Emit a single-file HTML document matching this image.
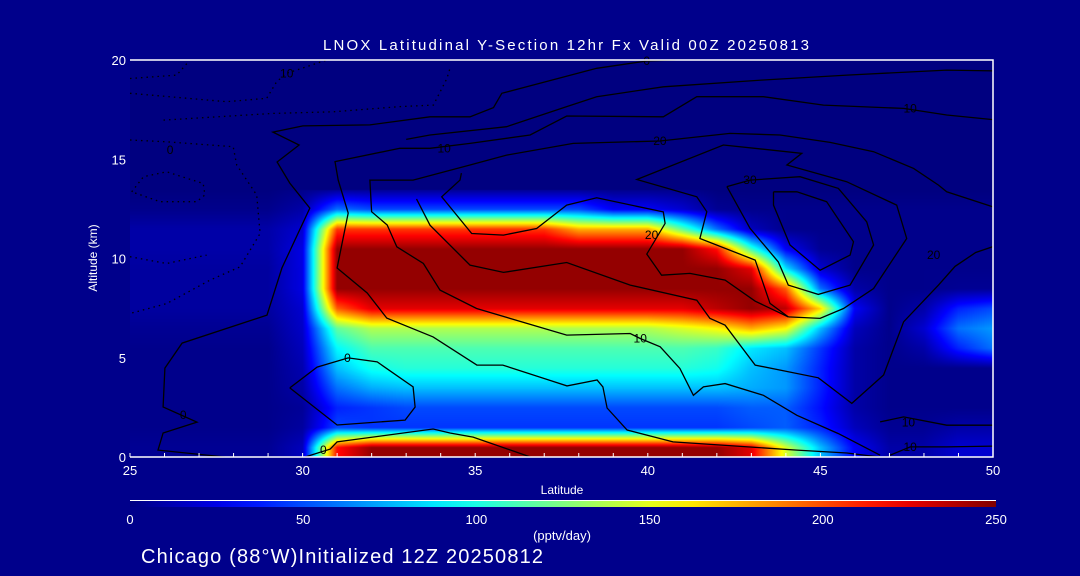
<!DOCTYPE html>
<html><head><meta charset="utf-8"><style>
html,body{margin:0;padding:0;background:#00008b;}
#wrap{position:relative;width:1080px;height:576px;background:#00008b;overflow:hidden;font-family:"Liberation Sans",sans-serif;}
canvas{position:absolute;left:130px;top:60px;}
svg{position:absolute;left:0;top:0;}
</style></head><body>
<div id="wrap">
<canvas id="heat" width="863" height="397"></canvas>
<svg id="svg" width="1080" height="576"></svg>
</div>
<script>
// ---- data ----
const lats = [25,26,27,28,29,30,31,32,33,34,35,36,37,38,39,40,41,42,43,44,45,46,47,48,49,50];
const altRows = [0,1,2,3,4,5,6,7,8,9,10,11,12,13];
const r0 = [5,5,5,5,5,15,220,250,250,250,250,250,250,250,250,250,250,250,230,150,80,30,10,10,20,20];
const r1 = [3,3,3,3,3,8,50,45,45,45,45,45,45,45,45,45,45,45,50,55,40,15,5,5,10,10];
const r2 = [3,3,3,3,3,6,40,45,50,50,50,50,50,50,50,50,50,50,55,55,35,10,3,3,3,3];
const r3 = [3,3,3,3,3,10,60,75,80,80,80,80,80,80,80,80,80,80,75,70,40,10,3,3,3,3];
const r4 = [3,3,3,3,3,12,80,100,105,105,105,105,105,105,105,105,105,100,80,70,40,10,3,3,3,3];
const r5 = [3,3,3,3,3,15,95,115,115,115,115,115,115,115,115,115,115,110,90,80,45,10,3,10,40,60];
const r6 = [5,5,5,5,5,18,120,140,140,140,140,140,140,140,140,140,150,160,180,160,80,15,3,20,60,70];
const r7 = [8,8,8,8,8,20,200,230,230,230,230,230,230,230,230,230,230,240,250,240,170,30,3,10,40,50];
const r8 = [8,8,8,8,8,25,250,250,250,250,250,250,250,250,250,250,250,250,250,200,60,10,3,3,5,5];
const r9 = [8,8,8,8,8,25,250,250,250,250,250,250,250,250,250,250,250,250,230,90,20,3,3,3,3,3];
const r10 = [10,10,10,10,10,25,250,250,250,250,250,250,250,250,250,250,250,220,110,30,5,3,3,3,3,3];
const r11 = [10,10,10,10,10,20,210,210,210,210,210,210,210,180,180,180,120,60,15,3,3,3,3,3,3,3];
const r12 = [3,3,3,3,3,10,60,50,50,50,50,50,50,50,30,30,20,5,3,3,3,3,3,3,3,3];
const r13 = [0,0,0,0,0,3,5,5,5,5,5,5,5,5,3,3,3,0,0,0,0,0,0,0,0,0];
const grid = [r0,r1,r2,r3,r4,r5,r6,r7,r8,r9,r10,r11,r12,r13];

const xTicks = [25,30,35,40,45,50];
const yTicks = [0,5,10,15,20];
const cbTicks = [0,50,100,150,200,250];

// contours [lat, alt]
const c0 = [[27.75,0],[25.81,0.35],[25.96,1.21],[26.94,1.76],[25.96,2.52],[26.01,4.48],[26.51,5.74],[28.97,7.15],[29.4,9.52],[30.21,12.54],[29.63,13.8],[29.26,14.86],[29.9,15.72],[29.14,16.37],[30.01,16.68],[31.95,16.73],[33.69,17.14],[34.85,17.14],[35.53,17.6],[35.77,18.32],[38.52,19.58],[39.97,19.95],[40.8,20]];
const c0loop = [[29.63,3.48],[30.42,4.53],[31.32,4.99],[32.16,4.79],[33.2,3.53],[33.26,2.52],[32.97,1.86],[31.0,1.61],[29.63,3.48]];
const c0bot = [[30.07,0],[30.8,0.4],[31.0,0.76],[33.78,1.41],[34.27,1.21],[34.94,1.0],[36.6,0]];
const c10big = [[46.7,0],[45.77,0.2],[44.32,0.35],[40.73,0.76],[39.4,1.36],[38.82,2.47],[38.7,3.53],[38.53,3.88],[37.66,3.58],[35.8,4.63],[35.05,4.63],[33.78,6.05],[32.44,7.0],[31.87,8.26],[31.0,9.52],[31.32,12.29],[31.03,13.95],[30.94,14.88],[32.82,15.55],[33.69,15.55],[34.85,15.8],[36.59,16.22],[37.65,17.18],[40.45,17.14],[41.42,18.15],[43.35,18.15],[45.09,17.73],[47.41,17.56],[48.66,17.23],[50,17.0]];
const c5 = [[33.0,16.0],[33.69,16.22],[35.91,16.64],[37.65,17.65],[38.52,18.15],[40.45,18.65],[43.35,18.99],[45.77,19.24],[48.66,19.49],[50,19.45]];
const c20 = [[46.73,0.09],[45.52,1.18],[44.32,2.1],[43.35,3.11],[42.24,3.7],[41.61,3.53],[41.32,3.11],[40.93,4.46],[40.36,5.55],[39.78,5.97],[39.49,6.22],[37.65,6.14],[35.04,7.48],[33.98,8.41],[33.5,9.75],[32.73,10.59],[32.45,11.69],[32.0,12.36],[31.95,13.95],[33.2,13.95],[34.85,14.71],[35.91,15.21],[37.84,15.8],[40.35,15.92],[42.38,16.3],[43.83,16.22],[45.28,15.85],[46.54,15.38],[47.7,14.54],[48.42,13.7],[48.66,13.36],[50,12.6]];
const cD = [[34.6,14.3],[34.56,13.95],[34.03,13.11],[34.9,11.26],[35.82,11.18],[36.78,11.51],[37.65,12.69],[38.52,13.06],[40.45,12.35],[40.5,11.77],[39.97,10.22],[40.4,9.16],[41.22,9.25],[42.24,8.91],[43.11,7.85],[44.07,7.06]];
const cE = [[44.07,7.06],[43.54,7.74],[43.11,9.92],[41.51,11.01],[41.71,12.36],[41.42,13.11],[39.68,13.98],[42.19,15.72],[44.46,15.3],[44.03,14.71],[45.76,13.87],[47.21,12.69],[47.5,11.01],[46.54,8.49],[45.67,7.48],[44.99,6.98],[44.07,7.06]];
const c30 = [[42.29,13.62],[42.96,13.95],[44.41,14.12],[45.52,13.53],[46.34,11.85],[46.54,10.68],[45.86,8.66],[44.94,8.19],[44.07,8.66],[43.78,9.83],[42.96,11.52],[42.29,13.62]];
const c35 = [[43.64,13.36],[44.32,13.36],[45.18,12.86],[45.96,10.84],[45.86,10.17],[44.99,9.41],[44.12,10.68],[43.64,12.69],[43.64,13.36]];
const cF = [[33.3,13.0],[33.69,11.68],[34.85,9.67],[35.82,9.3],[37.65,9.8],[39.49,8.66],[41.42,7.9],[41.8,6.98],[42.24,6.64],[43.11,4.63],[44.94,3.99],[45.91,2.7],[46.83,4.13],[47.12,5.47],[47.41,6.81],[48.42,8.66],[48.9,9.6],[49.5,10.3],[50,10.6]];
const c10r1 = [[46.73,1.77],[47.41,2.02],[48.66,1.6],[50,1.6]];
const c10r2 = [[47.02,0.09],[47.6,0.51],[48.66,0.51],[50,0.55]];
const dot0 = [[25.0,19.07],[26.35,19.24],[26.69,19.9]];
const dot1 = [[25.0,18.32],[27.8,17.9],[28.96,18.07],[29.25,18.91],[29.54,19.33],[30.7,20.0]];
const dot2 = [[25.97,16.97],[29.15,17.31],[30.89,17.39],[32.82,17.65],[33.79,17.73],[34.18,19.07],[34.27,19.58]];
const dot3 = [[25.05,13.36],[25.39,14.12],[26.06,14.37],[27.12,13.78],[27.17,13.2],[26.93,12.86],[25.87,12.86],[25.05,13.36]];
const dot4 = [[25.0,15.97],[26.06,15.88],[27.99,15.63],[28.09,14.71],[28.67,13.2],[28.77,11.26],[28.19,9.58],[27.32,8.91],[26.06,7.73],[25.0,7.23]];
const dot6 = [[25.0,10.09],[26.06,9.75],[27.22,10.17]];
const labelText = ["0","0","0","0","10","10","10","20","20","20","30","10","10","10","0"];
const labelPos = [[26.54,2.11],[31.3,4.99],[30.6,0.35],[39.97,19.95],[34.1,15.55],[47.6,17.55],[39.78,5.97],[40.35,15.92],[40.11,11.18],[48.28,10.17],[42.96,13.95],[47.55,1.75],[47.6,0.5],[29.54,19.33],[26.16,15.46]];

// ---- axes ----
const X0=130,X1=993,Y0=457,Y1=60;
const xs = v => X0 + (v-25)/(50-25)*(X1-X0);
const ys = v => Y0 - v/20*(Y0-Y1);
const cbx = v => 130 + v/250*(996-130);

function jet(t){
  t=Math.max(0,Math.min(1,t));
  const f=x=>Math.max(0,Math.min(1,x));
  return [f(1.5-Math.abs(4*t-3)),f(1.5-Math.abs(4*t-2)),f(1.5-Math.abs(4*t-1))].map(v=>Math.round(v*255));
}

// ---- heatmap: bilinear interpolation of grid (cell centres at lat, alt+0.5) ----
const cv=document.getElementById('heat'), ctx=cv.getContext('2d');
const W=cv.width,H=cv.height, img=ctx.createImageData(W,H);
function val(lat,alt){
  let fi=(lat-lats[0]); let fj=alt-0.5;
  fi=Math.max(0,Math.min(lats.length-1,fi));
  if(fj<0) fj=0;
  if(fj>altRows.length-1){ return 0; }
  const i0=Math.floor(fi), j0=Math.floor(fj);
  const i1=Math.min(i0+1,lats.length-1), j1=Math.min(j0+1,altRows.length-1);
  const a=fi-i0,b=fj-j0;
  const v00=grid[j0][i0],v10=grid[j0][i1],v01=grid[j1][i0],v11=grid[j1][i1];
  return (v00*(1-a)+v10*a)*(1-b)+(v01*(1-a)+v11*a)*b;
}
for(let py=0;py<H;py++){
  const alt=(Y0-(py+60))/(Y0-Y1)*20;
  for(let px=0;px<W;px++){
    const lat=25+(px+0.5)/(X1-X0)*25;
    const c=jet(val(lat,alt)/250*0.98);
    const k=(py*W+px)*4;
    img.data[k]=c[0];img.data[k+1]=c[1];img.data[k+2]=c[2];img.data[k+3]=255;
  }
}
ctx.putImageData(img,0,0);

// ---- SVG overlay ----
const NS='http://www.w3.org/2000/svg', svg=document.getElementById('svg');
function mk(tag,attrs,parent){const e=document.createElementNS(NS,tag);for(const k in attrs)e.setAttribute(k,attrs[k]);(parent||svg).appendChild(e);return e;}

const cg=mk('g',{});


function line(pts,dashed,name){
  const d=pts.map((p,i)=>(i?'L':'M')+xs(p[0]).toFixed(1)+','+ys(Math.min(20,p[1])).toFixed(1)).join(' ');
  const p=mk('path',{d:d,fill:'none',stroke:'#000',"stroke-width":1.3,"stroke-dasharray":dashed?'1.5,4':'none'},cg);
  
  
}
line(c0,false,'contour-0');
line(c0loop,false,'contour-0-loop');
line(c0bot,false,'contour-0-surface');
line(c10big,false,'contour-10');
line(c5,false,'contour-5');
line(c20,false,'contour-20');
line(cD,false,'contour-20-inner');
line(cE,false,'contour-25');
line(c30,false,'contour-30');
line(c35,false,'contour-35');
line(cF,false,'contour-20-lower');
line(c10r1,false,'contour-10-right-a');
line(c10r2,false,'contour-10-right-b');
line(dot0,true,'contour-neg-0');
line(dot1,true,'contour-neg-1');
line(dot2,true,'contour-neg-2');
line(dot3,true,'contour-neg-3');
line(dot4,true,'contour-neg-4');
line(dot6,true,'contour-neg-6');
labelText.forEach((t,i)=>{
  const e=mk('text',{x:xs(labelPos[i][0]),y:ys(labelPos[i][1])+4,"font-size":12,fill:'#000',"text-anchor":'middle'},cg);
  e.textContent=t;
  
  
});

// plot frame
const fr=mk('path',{d:`M${X0},${Y1} L${X1},${Y1} L${X1},${Y0} L${X0},${Y0}`,fill:'none',stroke:'#fff',"stroke-width":1.5});


for(let v=25;v<=50;v++){
  const t=mk('line',{x1:xs(v),x2:xs(v),y1:Y0,y2:Y0-4,stroke:'#fff',"stroke-width":1});
  
  
}
xTicks.forEach(v=>{
  const e=mk('text',{x:xs(v),y:Y0+18,"font-size":13,fill:'#fff',"text-anchor":'middle'});
  e.textContent=v;
  
  
});
yTicks.forEach(v=>{
  const e=mk('text',{x:X0-4,y:ys(v)+5,"font-size":13,fill:'#fff',"text-anchor":'end'});
  e.textContent=v;
  
  
});
let e;
e=mk('text',{x:566,y:50,"font-size":15,fill:'#fff',"text-anchor":'middle',textLength:486});
e.textContent='LNOX Latitudinal Y-Section 12hr  Fx Valid 00Z 20250813';


e=mk('text',{x:0,y:0,"font-size":12,fill:'#fff',"text-anchor":'middle',transform:'translate(97,258) rotate(-90)'});
e.textContent='Altitude (km)';


e=mk('text',{x:562,y:494,"font-size":12,fill:'#fff',"text-anchor":'middle'});
e.textContent='Latitude';



// colorbar
const defs=mk('defs',{});
const lg=mk('linearGradient',{id:'jetg',x1:0,x2:1,y1:0,y2:0},defs);
for(let i=0;i<=20;i++){const c=jet(i/20);mk('stop',{offset:(i/20),"stop-color":`rgb(${c})`},lg);}
e=mk('rect',{x:cbx(0),y:501,width:cbx(250)-cbx(0),height:6,fill:'url(#jetg)'});


e=mk('line',{x1:cbx(0),x2:cbx(250),y1:500.5,y2:500.5,stroke:'#fff',"stroke-width":1});


cbTicks.forEach(v=>{
  const t=mk('text',{x:cbx(v),y:524,"font-size":13,fill:'#fff',"text-anchor":'middle'});
  t.textContent=v;
  
  
});
e=mk('text',{x:562,y:540,"font-size":13,fill:'#fff',"text-anchor":'middle'});
e.textContent='(pptv/day)';


e=mk('text',{x:141,y:563,"font-size":20,fill:'#fff',textLength:402});
e.textContent='Chicago (88°W)Initialized 12Z 20250812';


</script>
</body></html>
